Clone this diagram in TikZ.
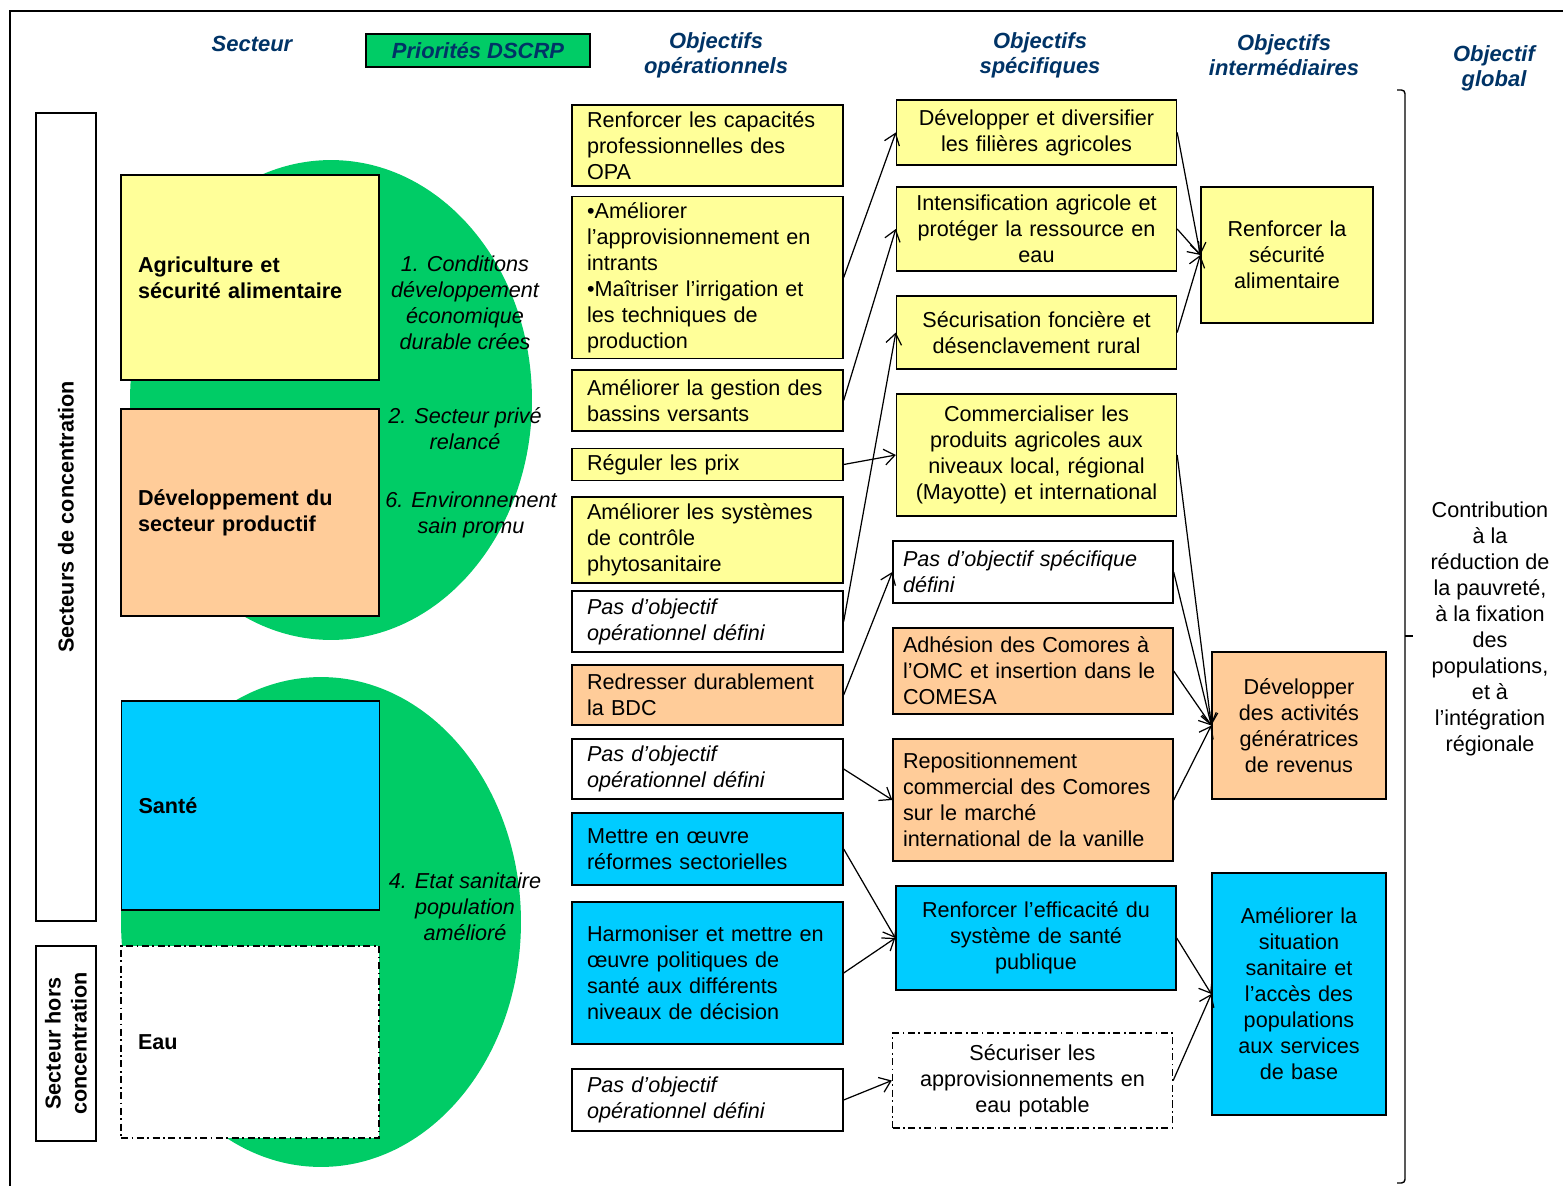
\documentclass[tikz,border=0pt]{standalone}
\usepackage{fontspec}
\setmainfont{Liberation Sans}
\usetikzlibrary{arrows.meta}

\definecolor{jaune}{HTML}{FFFF99}
\definecolor{saumon}{HTML}{FFCC99}
\definecolor{bleu}{HTML}{00CCFF}
\definecolor{vert}{HTML}{00CC66}
\definecolor{titre}{HTML}{003366}
\newcommand{\txt}{\fontsize{12.3}{14.8}\selectfont}

\begin{document}
\begin{tikzpicture}[x=0.02cm, y=-0.02cm,
  cadre/.style={draw, line width=0.8pt, font=\txt},
  op/.style={cadre, minimum width=5.42cm, text width=4.82cm, inner xsep=0.3cm, align=left},
  sp/.style={cadre, minimum width=5.6cm, text width=5.04cm, inner xsep=0.28cm, align=center},
  spg/.style={sp, text width=5.2cm, inner xsep=0.2cm, align=left},
  inter/.style={cadre, text width=2.9cm, align=center},
  secteur/.style={cadre, minimum width=5.16cm, text width=4.48cm, inner xsep=0.34cm, align=left, font=\txt\bfseries},
  prio/.style={font=\txt\itshape, align=center},
  entete/.style={font=\fontsize{12.5}{14.2}\selectfont\bfseries\itshape, text=titre, align=center},
  tiret/.style={dash pattern=on 4pt off 2pt on 1pt off 2pt},
  fleche/.style={-{Straight Barb[length=6pt,width=9pt]}, line width=0.7pt}]

\useasboundingbox (0,0) rectangle (1563,1186);
\draw[line width=0.8pt] (10,1186) -- (10,11) -- (1563,11);

\node[entete] (hsect) at (252,44) {Secteur};
\node[cadre, fill=vert, minimum width=4.48cm, minimum height=0.66cm, entete] (hprio) at (478,50.5) {Priorités DSCRP};
\node[entete] (hop) at (716,55) {Objectifs\\opérationnels};
\node[entete] (hsp) at (1040,55) {Objectifs\\spécifiques};
\node[entete] (hint) at (1284,55) {Objectifs\\intermédiaires};
\node[entete] (hglob) at (1494,68) {Objectif\\global};

\fill[vert] (331,400) ellipse (4.02cm and 4.8cm);
\fill[vert] (321,922) ellipse (4cm and 4.9cm);

\node[cadre, minimum width=16.16cm, minimum height=1.2cm, rotate=90, font=\txt\bfseries] (conc) at (66,517) {Secteurs de concentration};
\node[cadre, minimum width=3.9cm, minimum height=1.2cm, rotate=90, align=center, font=\txt\bfseries] (hors) at (66,1043.5) {Secteur hors\\concentration};

\node[secteur, fill=jaune, minimum height=4.1cm] (agri) at (250,277.5) {Agriculture et\\sécurité alimentaire};
\node[secteur, fill=saumon, minimum height=4.14cm] (dev) at (250,512.5) {Développement du\\secteur productif};
\node[secteur, fill=bleu, minimum height=4.18cm] (sante) at (250.5,805.5) {Santé};
\node[secteur, fill=white, tiret, minimum height=3.84cm] (eau) at (250,1042) {Eau};

\node[prio] (p1) at (465,303) {1. Conditions\\développement\\économique\\durable crées};
\node[prio] (p2) at (465,429) {2. Secteur privé\\relancé};
\node[prio] (p6) at (471,515) {6. Environnement\\sain promu};
\node[prio] (p4) at (465,907) {4. Etat sanitaire\\population\\amélioré};

\node[op, fill=jaune, minimum height=1.62cm] (o1) at (707.5,145.5) {Renforcer les capacités\\professionnelles des\\OPA};
\node[op, fill=jaune, minimum height=3.18cm] (o2) at (707.5,277.5) {•Améliorer\\l’approvisionnement en\\intrants\\•Maîtriser l’irrigation et\\les techniques de\\production};
\node[op, fill=jaune, minimum height=1.22cm] (o3) at (707.5,400.5) {Améliorer la gestion des\\bassins versants};
\node[op, fill=jaune, minimum height=0.62cm] (o4) at (707.5,464.5) {Réguler les prix};
\node[op, fill=jaune, minimum height=1.72cm] (o5) at (707.5,540) {Améliorer les systèmes\\de contrôle\\phytosanitaire};
\node[op, fill=white, minimum height=1.22cm, font=\txt\itshape] (o6) at (707.5,621.5) {Pas d’objectif\\opérationnel défini};
\node[op, fill=saumon, minimum height=1.2cm] (o7) at (707.5,695) {Redresser durablement\\la BDC};
\node[op, fill=white, minimum height=1.2cm, font=\txt\itshape] (o8) at (707.5,769) {Pas d’objectif\\opérationnel défini};
\node[op, fill=bleu, minimum height=1.44cm] (o9) at (707.5,849) {Mettre en œuvre\\réformes sectorielles};
\node[op, fill=bleu, minimum height=2.84cm] (o10) at (707.5,973) {Harmoniser et mettre en\\œuvre politiques de\\santé aux différents\\niveaux de décision};
\node[op, fill=white, minimum height=1.24cm, font=\txt\itshape] (o11) at (707.5,1100) {Pas d’objectif\\opérationnel défini};

\node[sp, fill=jaune, minimum height=1.3cm] (s1) at (1036.5,132.5) {Développer et diversifier\\les filières agricoles};
\node[sp, fill=jaune, minimum height=1.68cm] (s2) at (1036.5,229) {Intensification agricole et\\protéger la ressource en\\eau};
\node[sp, fill=jaune, minimum height=1.46cm] (s3) at (1036.5,332.5) {Sécurisation foncière et\\désenclavement rural};
\node[sp, fill=jaune, minimum height=2.44cm] (s4) at (1036.5,455) {Commercialiser les\\produits agricoles aux\\niveaux local, régional\\(Mayotte) et international};
\node[spg, fill=white, minimum height=1.24cm, font=\txt\itshape] (s5) at (1033,572) {Pas d’objectif spécifique\\défini};
\node[spg, fill=saumon, minimum height=1.72cm] (s6) at (1033,671) {Adhésion des Comores à\\l’OMC et insertion dans le\\COMESA};
\node[spg, fill=saumon, minimum height=2.44cm] (s7) at (1033,800) {Repositionnement\\commercial des Comores\\sur le marché\\international de la vanille};
\node[sp, fill=bleu, minimum height=2.08cm] (s8) at (1036,938) {Renforcer l’efficacité du\\système de santé\\publique};
\node[sp, fill=white, tiret, minimum height=1.9cm] (s9) at (1032.5,1080.5) {Sécuriser les\\approvisionnements en\\eau potable};

\node[inter, fill=jaune, minimum width=3.44cm, minimum height=2.72cm] (i1) at (1287,255) {Renforcer la\\sécurité\\alimentaire};
\node[inter, fill=saumon, minimum width=3.48cm, minimum height=2.94cm] (i2) at (1299,725.5) {Développer\\des activités\\génératrices\\de revenus};
\node[inter, fill=bleu, minimum width=3.48cm, minimum height=4.84cm] (i3) at (1299,994) {Améliorer la\\situation\\sanitaire et\\l’accès des\\populations\\aux services\\de base};

\draw[line width=0.8pt, rounded corners=2pt] (1397,90) -- (1405,90) -- (1405,1183) -- (1397,1183);
\draw[line width=0.8pt] (1405,636) -- (1413,636);
\node[font=\txt, align=center] (glob) at (1490,628.5) {Contribution\\à la\\réduction de\\la pauvreté,\\à la fixation\\des\\populations,\\et à\\l’intégration\\régionale};

\draw[fleche] (o2.east) -- (s1.west);
\draw[fleche] (o3.east) -- (s2.west);
\draw[fleche] (o4.east) -- (s4.west);
\draw[fleche] (o6.east) -- (s3.west);
\draw[fleche] (o7.east) -- (s5.west);
\draw[fleche] (o8.east) -- (s7.west);
\draw[fleche] (o9.east) -- (s8.west);
\draw[fleche] (o10.east) -- (s8.west);
\draw[fleche] (o11.east) -- (s9.west);

\draw[fleche] (s1.east) -- (i1.west);
\draw[fleche] (s2.east) -- (i1.west);
\draw[fleche] (s3.east) -- (i1.west);
\draw[fleche] (s4.east) -- (i2.west);
\draw[fleche] (s5.east) -- (i2.west);
\draw[fleche] (s6.east) -- (i2.west);
\draw[fleche] (s7.east) -- (i2.west);
\draw[fleche] (s8.east) -- (i3.west);
\draw[fleche] (s9.east) -- (i3.west);
\end{tikzpicture}
\end{document}
